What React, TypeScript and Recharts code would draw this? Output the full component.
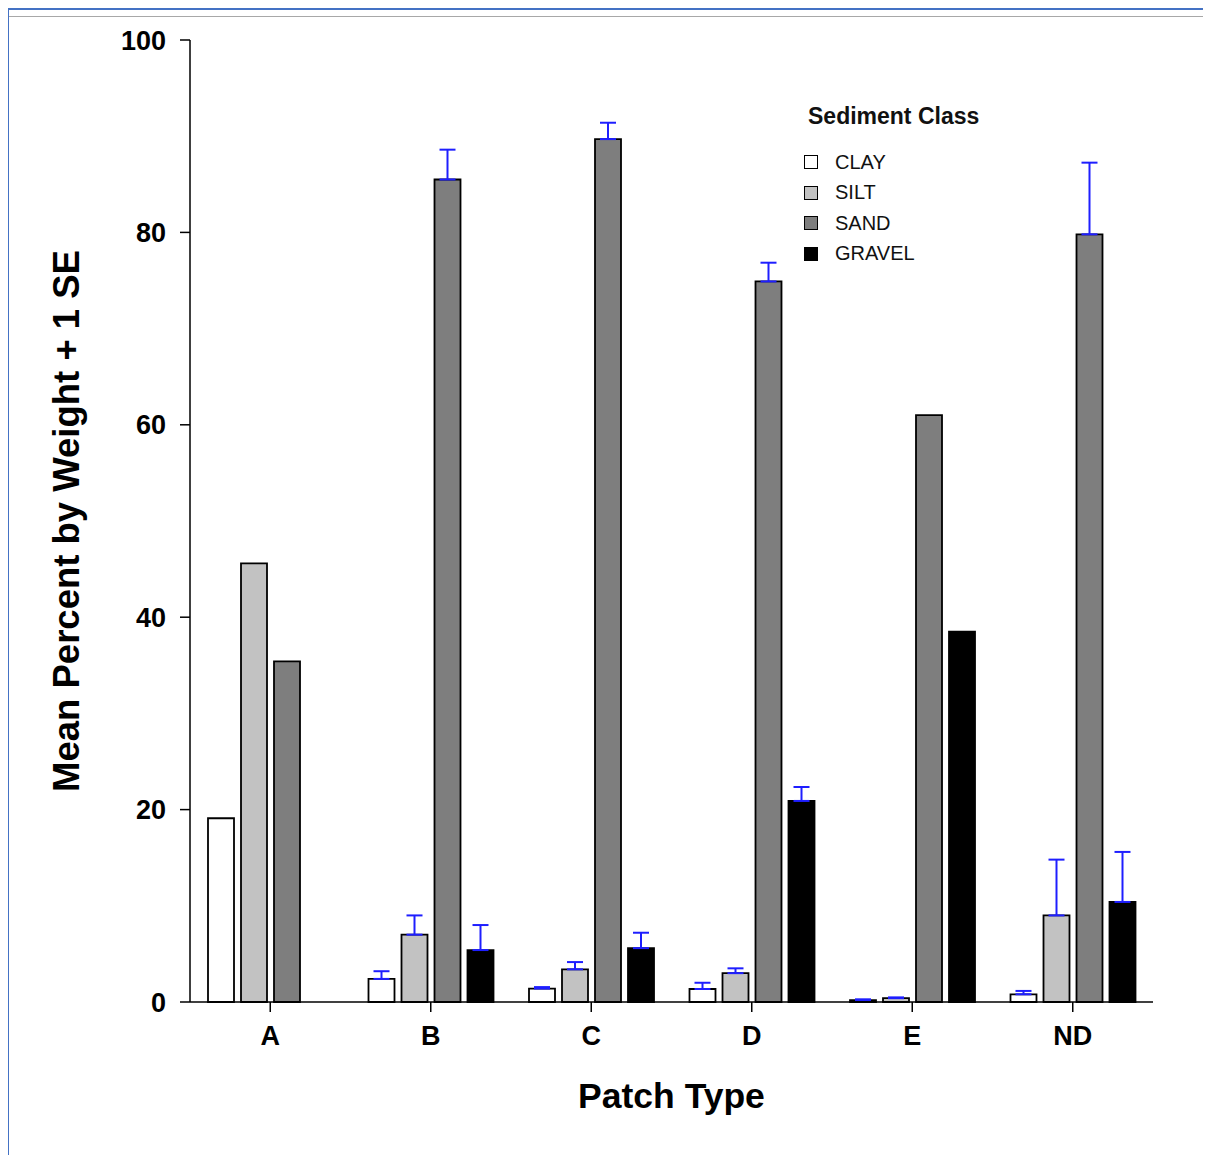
import React from "react";
import { BarChart, Bar, XAxis, YAxis, ErrorBar } from "recharts";

const categories = ["A", "B", "C", "D", "E", "ND"];
const clay = [19.1, 2.4, 1.4, 1.35, 0.2, 0.8];
const silt = [45.6, 7.0, 3.4, 3.0, 0.4, 9.0];
const sand = [35.4, 85.5, 89.7, 74.9, 61.0, 79.8];
const gravel = [0, 5.4, 5.6, 20.9, 38.5, 10.4];
const claySE = [null, 0.8, 0.15, 0.65, 0.08, 0.35];
const siltSE = [null, 2.0, 0.75, 0.5, 0.08, 5.8];
const sandSE = [null, 3.1, 1.7, 1.95, null, 7.45];
const gravelSE = [null, 2.6, 1.6, 1.45, null, 5.2];
const yTicks = [0, 20, 40, 60, 80, 100];

const seriesNames = ["CLAY", "SILT", "SAND", "GRAVEL"];
const seriesColors = ["#ffffff", "#c2c2c2", "#7e7e7e", "#000000"];

const data = categories.map((c, i) => ({
  cat: c,
  clay: clay[i],
  silt: silt[i],
  sand: sand[i],
  gravel: gravel[i],
  clayErr: claySE[i] == null ? null : [0, claySE[i]],
  siltErr: siltSE[i] == null ? null : [0, siltSE[i]],
  sandErr: sandSE[i] == null ? null : [0, sandSE[i]],
  gravelErr: gravelSE[i] == null ? null : [0, gravelSE[i]],
}));

const FONT = "'Liberation Sans', Arial, Helvetica, sans-serif";
const ERR = "#1e1eff";

const LegendBox = () => (
  <div style={{ position: "absolute", left: 796, top: 96, width: 200, height: 170, fontFamily: FONT, zIndex: 1 }}>
    <div
      style={{
        position: "absolute",
        left: 4,
        top: 0,
        fontSize: 23,
        fontWeight: "bold",
        lineHeight: "24px",
        color: "#111",
        whiteSpace: "nowrap",
      }}
    >
      Sediment Class
    </div>
    {seriesNames.map((n, i) => (
      <div
        key={n}
        style={{
          position: "absolute",
          left: 0,
          top: 47 + i * 30.5,
          height: 22,
          display: "flex",
          alignItems: "center",
          whiteSpace: "nowrap",
        }}
      >
        <div
          style={{
            width: 12,
            height: 12,
            border: "1.5px solid #000",
            background: seriesColors[i],
            boxSizing: "content-box",
          }}
        />
        <span style={{ marginLeft: 17, fontSize: 20, color: "#111" }}>{n}</span>
      </div>
    ))}
  </div>
);

export default function App() {
  return (
    <div style={{ position: "relative", width: 1203, height: 1147, background: "#fff" }}>
      <div
        style={{
          position: "absolute",
          left: -1,
          top: 0,
          width: 1204,
          height: 1147,
          borderLeft: "2px solid #4472c4",
          borderTop: "2px solid #4472c4",
          boxSizing: "border-box",
          pointerEvents: "none",
          zIndex: 2,
        }}
      />
      <div
        style={{
          position: "absolute",
          left: 1,
          top: 8,
          width: 1202,
          height: 0,
          borderTop: "1px solid #a8a8a8",
          pointerEvents: "none",
        }}
      />
      <BarChart
        width={1203}
        height={1147}
        data={data}
        margin={{ top: 32, right: 58, bottom: 93, left: 0 }}
        barSize={26}
        barGap={7}
        style={{ fontFamily: FONT }}
      >
        <XAxis
          dataKey="cat"
          height={60}
          tickSize={10}
          tickMargin={14}
          axisLine={{ stroke: "#000", strokeWidth: 1.5 }}
          tickLine={{ stroke: "#000", strokeWidth: 1.5 }}
          tick={{ fill: "#000", fontSize: 27, fontWeight: "bold", fontFamily: FONT }}
          label={({ viewBox }: any) => (
            <text
              x={viewBox.x + viewBox.width / 2}
              y={1088}
              textAnchor="middle"
              dominantBaseline="central"
              fontSize={35.5}
              fontWeight="bold"
              fontFamily={FONT}
              fill="#000"
            >
              Patch Type
            </text>
          )}
        />
        <YAxis
          width={182}
          domain={[0, 100]}
          ticks={yTicks}
          tickSize={10}
          tickMargin={14}
          axisLine={{ stroke: "#000", strokeWidth: 1.5 }}
          tickLine={{ stroke: "#000", strokeWidth: 1.5 }}
          tick={{ fill: "#000", fontSize: 27, fontWeight: "bold", fontFamily: FONT }}
          label={({ viewBox }: any) => (
            <text
              x={58}
              y={viewBox.y + viewBox.height / 2}
              transform={`rotate(-90 58 ${viewBox.y + viewBox.height / 2})`}
              textAnchor="middle"
              dominantBaseline="central"
              fontSize={36.5}
              fontWeight="bold"
              fontFamily={FONT}
              fill="#000"
            >
              Mean Percent by Weight + 1 SE
            </text>
          )}
        />
        <Bar dataKey="clay" name="CLAY" fill={seriesColors[0]} stroke="#000" strokeWidth={1.8} isAnimationActive={false}>
          <ErrorBar dataKey="clayErr" direction="y" width={8} stroke={ERR} strokeWidth={2} />
        </Bar>
        <Bar dataKey="silt" name="SILT" fill={seriesColors[1]} stroke="#000" strokeWidth={1.8} isAnimationActive={false}>
          <ErrorBar dataKey="siltErr" direction="y" width={8} stroke={ERR} strokeWidth={2} />
        </Bar>
        <Bar dataKey="sand" name="SAND" fill={seriesColors[2]} stroke="#000" strokeWidth={1.8} isAnimationActive={false}>
          <ErrorBar dataKey="sandErr" direction="y" width={8} stroke={ERR} strokeWidth={2} />
        </Bar>
        <Bar dataKey="gravel" name="GRAVEL" fill={seriesColors[3]} stroke="#000" strokeWidth={1.8} isAnimationActive={false}>
          <ErrorBar dataKey="gravelErr" direction="y" width={8} stroke={ERR} strokeWidth={2} />
        </Bar>
      </BarChart>
      <LegendBox />
    </div>
  );
}
